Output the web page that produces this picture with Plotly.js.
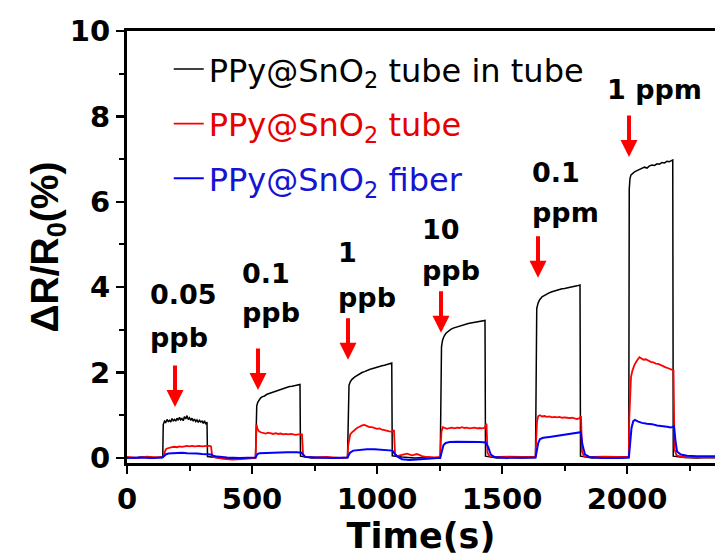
<!DOCTYPE html>
<html>
<head>
<meta charset="utf-8">
<script src="https://cdn.plot.ly/plotly-3.0.1.min.js"></script>
<style>html,body{margin:0;padding:0;background:#fff;}#chart{width:715px;height:559px;}</style>
</head>
<body>
<div id="chart"></div>
<script>
// ---- data ----
const seriesNames = ["PPy@SnO<sub>2</sub> tube in tube", "PPy@SnO<sub>2</sub> tube", "PPy@SnO<sub>2</sub> fiber"];

const tBlack = [0,30,60,90,120,143,
145,150,155,160,165,170,175,180,185,190,195,200,205,210,215,220,225,230,235,240,245,250,255,260,265,270,275,280,285,290,295,300,305,310,315,320,
322,360,400,440,480,514,
516,519,523,528,534,540,550,560,570,580,590,600,610,620,630,640,650,660,670,680,690,692,
694,740,790,840,882,
885,888,893,900,910,920,930,940,950,960,970,980,990,1000,1010,1020,1030,1040,1050,1059,
1061,1100,1150,1200,1253,
1255,1258,1262,1268,1276,1285,1295,1305,1315,1325,1335,1345,1355,1365,1375,1385,1395,1405,1415,1425,1432,
1434,1480,1530,1580,1634,
1636,1639,1644,1650,1660,1670,1680,1690,1700,1710,1720,1730,1740,1750,1760,1770,1780,1790,1800,1812,
1814,1860,1910,1960,2007,
2009,2012,2016,2022,2030,2040,2050,2060,2070,2080,2090,2100,2110,2120,2130,2140,2150,2160,2170,2183,
2185,2230,2280,2330,2360];
const vBlack = [0.01,0.0,0.02,0.0,0.01,0.01,
0.78,0.86,0.83,0.90,0.85,0.88,0.84,0.92,0.87,0.90,0.86,0.93,0.88,0.95,0.89,0.92,0.87,0.97,0.91,0.99,0.90,0.94,0.88,0.93,0.86,0.91,0.85,0.89,0.83,0.88,0.84,0.86,0.81,0.87,0.79,0.84,
0.03,0.0,-0.02,0.0,-0.01,0.0,
1.12,1.22,1.30,1.36,1.40,1.43,1.45,1.49,1.51,1.54,1.56,1.58,1.60,1.62,1.64,1.65,1.67,1.68,1.69,1.70,1.71,1.72,
0.04,0.0,0.01,0.0,0.01,
1.55,1.70,1.78,1.84,1.89,1.93,1.97,2.00,2.02,2.05,2.07,2.09,2.11,2.12,2.14,2.16,2.17,2.19,2.20,2.22,
0.05,0.02,0.0,0.01,0.0,
2.25,2.60,2.75,2.85,2.92,2.97,3.01,3.04,3.06,3.08,3.10,3.12,3.13,3.15,3.16,3.17,3.19,3.20,3.20,3.22,3.22,
0.04,0.0,0.01,0.0,0.01,
3.25,3.50,3.62,3.70,3.77,3.81,3.85,3.87,3.89,3.91,3.93,3.94,3.96,3.97,3.98,3.99,4.00,4.02,4.03,4.05,
0.04,0.0,0.01,0.0,0.01,
6.30,6.55,6.63,6.67,6.70,6.73,6.76,6.78,6.81,6.79,6.84,6.86,6.85,6.89,6.88,6.92,6.91,6.95,6.94,6.98,
0.04,0.01,0.0,0.01,0.0];

const tRed = [0,40,80,120,145,
150,155,160,170,180,190,200,210,220,230,240,250,260,270,280,290,300,310,320,330,336,
340,345,380,420,460,500,514,
516,518,522,528,535,545,555,565,575,585,595,605,615,625,635,645,655,665,675,685,695,700,
704,710,750,800,850,882,
885,888,893,900,910,920,930,940,950,960,970,980,990,1000,1010,1020,1030,1040,1050,1060,1068,
1072,1080,1100,1120,1140,1160,1180,1200,1230,1253,
1255,1258,1263,1270,1280,1290,1300,1310,1320,1330,1340,1350,1360,1370,1380,1390,1400,1410,1420,1430,1438,
1442,1450,1480,1530,1580,1634,
1636,1640,1645,1652,1660,1670,1680,1690,1700,1710,1720,1730,1740,1750,1760,1770,1780,1790,1800,1810,1816,
1820,1828,1860,1910,1960,2007,
2009,2012,2016,2022,2030,2040,2050,2058,2066,2075,2085,2095,2105,2115,2125,2135,2145,2155,2165,2175,2186,
2190,2198,2220,2260,2300,2360];
const vRed = [0.02,0.0,0.03,0.01,0.03,
0.15,0.20,0.22,0.24,0.25,0.26,0.25,0.27,0.26,0.27,0.28,0.27,0.28,0.27,0.28,0.28,0.27,0.28,0.28,0.28,0.27,
0.08,0.02,-0.02,-0.04,-0.03,-0.01,0.0,
0.35,0.78,0.68,0.62,0.60,0.58,0.57,0.59,0.57,0.56,0.58,0.56,0.57,0.55,0.56,0.55,0.56,0.55,0.54,0.55,0.56,0.55,
0.10,0.03,0.01,0.02,0.0,0.01,
0.30,0.45,0.55,0.60,0.66,0.70,0.73,0.76,0.77,0.74,0.72,0.72,0.70,0.68,0.69,0.66,0.65,0.63,0.62,0.61,0.65,
0.10,0.04,0.07,0.10,0.06,0.09,0.04,0.02,0.01,0.02,
0.35,0.62,0.72,0.70,0.68,0.70,0.71,0.69,0.71,0.70,0.72,0.70,0.71,0.69,0.70,0.71,0.69,0.70,0.69,0.70,0.80,
0.12,0.04,0.02,0.03,0.02,0.03,
0.40,0.85,0.98,1.00,0.97,0.98,0.96,0.97,0.95,0.96,0.95,0.96,0.94,0.95,0.94,0.93,0.94,0.92,0.91,0.93,0.98,
0.15,0.04,0.02,0.03,0.02,0.02,
0.90,1.60,1.90,2.05,2.18,2.28,2.36,2.33,2.30,2.31,2.27,2.25,2.24,2.21,2.20,2.17,2.15,2.12,2.10,2.07,2.05,
0.20,0.06,0.02,0.01,0.02,0.01];

const tBlue = [0,50,100,140,148,155,165,180,200,220,240,260,280,300,320,335,345,360,400,450,514,
516,522,530,560,600,640,680,698,706,715,760,820,882,
885,892,905,930,960,990,1020,1050,1062,1070,1082,1100,1130,1160,1190,1220,1253,
1255,1260,1266,1275,1290,1320,1350,1380,1410,1435,1445,1455,1470,1520,1580,1634,
1636,1640,1645,1652,1665,1690,1720,1750,1780,1805,1815,1822,1832,1850,1900,1960,2007,
2009,2013,2018,2025,2032,2045,2060,2080,2100,2120,2140,2160,2175,2188,2194,2200,2215,2240,2280,2320,2360];
const vBlue = [0.0,0.01,0.0,0.01,0.04,0.08,0.10,0.11,0.12,0.12,0.11,0.11,0.10,0.09,0.09,0.08,0.05,0.03,0.01,0.0,0.01,
0.04,0.09,0.11,0.12,0.12,0.13,0.13,0.12,0.06,0.02,0.01,0.0,0.01,
0.05,0.12,0.17,0.19,0.20,0.20,0.19,0.19,0.17,0.10,0.03,-0.03,-0.05,-0.04,-0.03,-0.01,0.0,
0.05,0.20,0.30,0.35,0.37,0.38,0.38,0.37,0.37,0.36,0.25,0.08,0.02,0.0,0.0,0.01,
0.06,0.20,0.35,0.44,0.47,0.49,0.52,0.55,0.58,0.60,0.60,0.30,0.08,0.02,0.0,0.0,0.01,
0.10,0.40,0.70,0.86,0.89,0.85,0.82,0.80,0.79,0.76,0.75,0.73,0.71,0.74,0.40,0.15,0.08,0.05,0.04,0.04,0.04];

// exposure labels and arrow targets (time of injection)
const concValues = ["0.05", "0.1", "1", "10", "0.1", "1"];
const concUnits = ["ppb", "ppb", "ppb", "ppb", "ppm", "ppm"];
const injectTimes = [192, 524, 884, 1256, 1644, 2008];
const arrowTipLevels = [1.19, 1.59, 2.30, 2.93, 4.22, 7.05];

// ---- layout helpers (positions / styles) ----
const colors = ["#000000", "#ff0000", "#0000ff"];
const legendColors = ["#000000", "#e60000", "#1414d2"];
const lineWidths = [1.5, 1.8, 2];
const labelPos = [
  {x: 84, y1: 3.82, y2: 2.83},
  {x: 452, y1: 4.33, y2: 3.40},
  {x: 836, y1: 4.80, y2: 3.75},
  {x: 1172, y1: 5.34, y2: 4.40},
  {x: 1612, y1: 6.68, y2: 5.76},
  {x: 1912, y1: 8.62, y2: null}
];

const xs = [tBlack, tRed, tBlue];
const ys = [vBlack, vRed, vBlue];
const traces = xs.map((x, i) => ({
  type: 'scatter', mode: 'lines', x: x, y: ys[i],
  name: '<span style="color:' + legendColors[i] + '">' + seriesNames[i] + '</span>',
  legendgroup: 'g' + i,
  line: {color: colors[i], width: lineWidths[i]}
}));

const labelFont = {family: 'DejaVu Sans', size: 27, color: '#000', weight: 'bold'};
const annotations = [];
concValues.forEach((c, i) => {
  const p = labelPos[i];
  if (p.y2 === null) {
    annotations.push({x: p.x, y: p.y1, xref: 'x', yref: 'y', text: c + ' ' + concUnits[i],
      showarrow: false, xanchor: 'left', yanchor: 'middle', font: labelFont});
  } else {
    annotations.push({x: p.x, y: p.y1, xref: 'x', yref: 'y', text: c,
      showarrow: false, xanchor: 'left', yanchor: 'middle', font: labelFont});
    annotations.push({x: p.x, y: p.y2, xref: 'x', yref: 'y', text: concUnits[i],
      showarrow: false, xanchor: 'left', yanchor: 'middle', font: labelFont});
  }
  annotations.push({x: injectTimes[i], y: arrowTipLevels[i], xref: 'x', yref: 'y', text: '',
    showarrow: true, ax: 0, ay: -43, arrowcolor: '#ff0000', arrowwidth: 4,
    arrowhead: 2, arrowsize: 0.85});
});

const tickFont = {family: 'DejaVu Sans', size: 29, color: '#000', weight: 'bold'};
const xTitleFont = {family: 'DejaVu Sans', size: 35, color: '#000', weight: 'bold'};
const yTitleFont = {family: 'Liberation Sans, Arial, sans-serif', size: 39, color: '#000', weight: 'bold'};

const layout = {
  width: 715, height: 559,
  margin: {l: 127, r: 0, t: 31, b: 96, pad: 0},
  paper_bgcolor: '#ffffff', plot_bgcolor: '#ffffff',
  showlegend: true,
  legend: {x: 0.071, y: 0.975, xanchor: 'left', yanchor: 'top', bgcolor: 'rgba(0,0,0,0)',
    font: {family: 'DejaVu Sans', size: 32, color: '#000'}, traceorder: 'grouped', tracegroupgap: 10},
  xaxis: {
    range: [0, 2352], showline: true, linewidth: 3, linecolor: '#000', mirror: true,
    ticks: 'outside', ticklen: 8, tickwidth: 2.5, tickcolor: '#000', dtick: 500, tick0: 0,
    minor: {dtick: 250, ticks: 'outside', ticklen: 5, tickwidth: 2, tickcolor: '#000'},
    showgrid: false, zeroline: false, tickfont: tickFont,
    title: {text: 'Time(s)', font: xTitleFont, standoff: 8}
  },
  yaxis: {
    range: [-0.12, 10], showline: true, linewidth: 3, linecolor: '#000', mirror: false,
    ticks: 'outside', ticklen: 8, tickwidth: 2.5, tickcolor: '#000', dtick: 2, tick0: 0,
    minor: {dtick: 1, ticks: 'outside', ticklen: 5, tickwidth: 2, tickcolor: '#000'},
    showgrid: false, zeroline: false, tickfont: tickFont,
    title: {text: 'ΔR/R<sub>0</sub>(%)', font: yTitleFont, standoff: 0}
  },
  annotations: annotations
};

Plotly.newPlot('chart', traces, layout, {staticPlot: true, displayModeBar: false});
</script>
</body>
</html>
